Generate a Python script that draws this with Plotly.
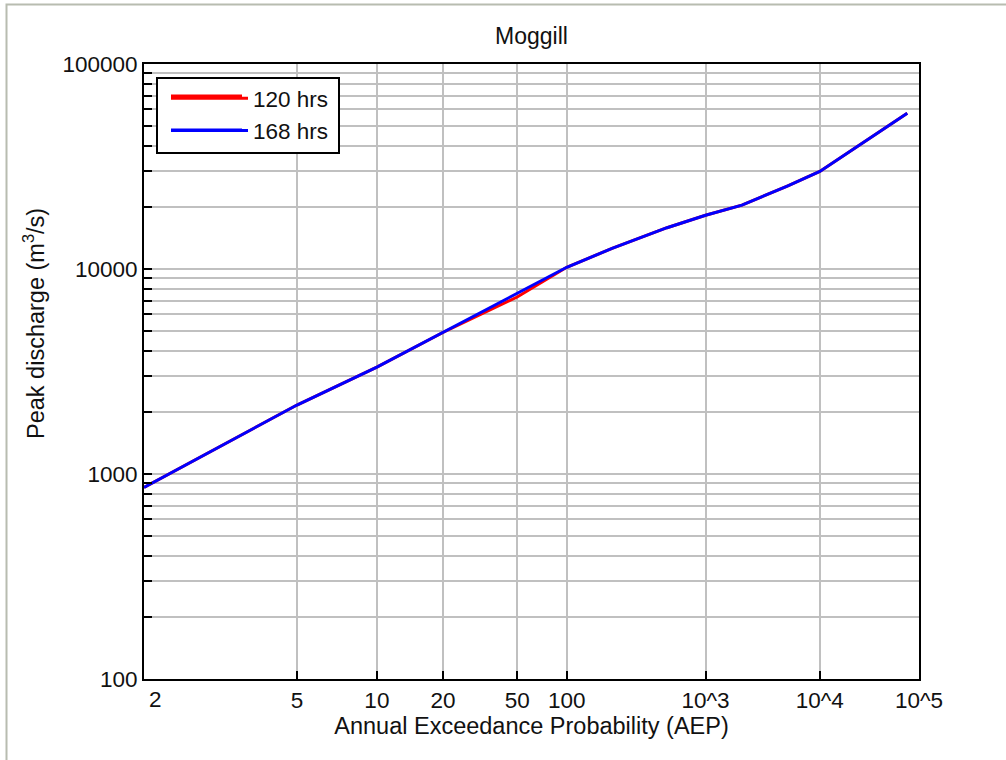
import plotly.graph_objects as go
from statistics import NormalDist

# ---------------- data ----------------
# AEP expressed as "1 in Y" years
aep_120 = [2, 5, 10, 20, 50, 100, 200, 500, 1000, 2000, 5000, 10000, 75000]
q_120 = [860, 2170, 3320, 4900, 7300, 10200, 12600, 15900, 18300, 20500, 25400, 29900, 57500]

aep_168 = [2, 5, 10, 20, 50, 100, 200, 500, 1000, 2000, 5000, 10000, 75000]
q_168 = [860, 2170, 3320, 4900, 7600, 10200, 12600, 15900, 18300, 20500, 25400, 29900, 57500]

x_tick_aep = [5, 10, 20, 50, 100, 1000, 10000, 100000]
x_tick_text = ["5", "10", "20", "50", "100", "10^3", "10^4", "10^5"]
x_first_label = "2"

series_names = ["120 hrs", "168 hrs"]
series_colors = ["#ff0000", "#0000ff"]

# ---------------- helpers ----------------
nd = NormalDist()


def zval(y):
    """normal-probability-scale coordinate of an AEP of 1 in y"""
    return nd.inv_cdf(1.0 - 1.0 / y)


W, H = 1006, 760
L, R, T, B = 144, 87, 64, 81
PW, PH = W - L - R, H - T - B


def px(xp):
    return (xp - L) / PW


def py(yp):
    return (H - B - yp) / PH


FONT = "Liberation Sans, Arial, sans-serif"
TXT = "#111111"
GRID = "#c0c0c0"

fig = go.Figure()
for name, color, xs, ys in [
    (series_names[0], series_colors[0], aep_120, q_120),
    (series_names[1], series_colors[1], aep_168, q_168),
]:
    fig.add_trace(
        go.Scatter(
            x=[zval(v) for v in xs],
            y=ys,
            mode="lines",
            name=name,
            line=dict(color=color, width=3),
        )
    )

fig.update_layout(
    width=W,
    height=H,
    margin=dict(l=L, r=R, t=T, b=B, pad=0),
    paper_bgcolor="white",
    plot_bgcolor="white",
    font=dict(family=FONT, size=22.5, color=TXT),
    title=dict(
        text="Moggill",
        x=0.5,
        xref="paper",
        xanchor="center",
        y=1 - 36 / H,
        yref="container",
        yanchor="middle",
        font=dict(size=23, color=TXT),
    ),
    showlegend=True,
    legend=dict(
        x=px(166),
        y=py(77),
        xanchor="left",
        yanchor="top",
        bgcolor="rgba(0,0,0,0)",
        borderwidth=0,
        itemwidth=77,
        tracegroupgap=6,
        font=dict(size=22.5, color=TXT),
        itemclick=False,
    ),
)

fig.update_xaxes(
    range=[zval(2), zval(100000)],
    tickmode="array",
    tickvals=[zval(v) for v in x_tick_aep],
    ticktext=x_tick_text,
    ticks="inside",
    ticklen=8,
    tickwidth=2,
    tickcolor="black",
    showgrid=True,
    gridcolor=GRID,
    gridwidth=1.5,
    showline=True,
    linecolor="black",
    linewidth=2,
    mirror=True,
    zeroline=False,
    tickfont=dict(size=22.5, color=TXT),
    title=dict(text="Annual Exceedance Probability (AEP)", standoff=6, font=dict(size=23.5, color=TXT)),
)

fig.update_yaxes(
    type="log",
    range=[2, 5],
    tickmode="linear",
    tick0=0,
    dtick=1,
    tickformat="d",
    ticks="inside",
    ticklen=8,
    tickwidth=2,
    tickcolor="black",
    showgrid=True,
    gridcolor=GRID,
    gridwidth=1.5,
    minor=dict(
        dtick="D1",
        ticks="inside",
        ticklen=8,
        tickwidth=2,
        tickcolor="black",
        showgrid=True,
        gridcolor=GRID,
        gridwidth=1.5,
    ),
    showline=True,
    linecolor="black",
    linewidth=2,
    mirror=True,
    zeroline=False,
    tickfont=dict(size=22.5, color=TXT),
)

# legend box and long legend lines
fig.add_shape(
    type="rect", xref="paper", yref="paper",
    x0=px(157), x1=px(339), y0=py(153), y1=py(78),
    fillcolor="white", line=dict(color="black", width=2), layer="above",
)
for i, yy in enumerate([96, 130]):
    fig.add_shape(
        type="line", xref="paper", yref="paper",
        x0=px(171), x1=px(242), y0=py(yy), y1=py(yy),
        line=dict(color=series_colors[i], width=3), layer="above",
    )

# outer window frame
fig.add_shape(
    type="path", xref="paper", yref="paper",
    path=f"M {px(6.5)},{py(H)} L {px(6.5)},{py(4.5)} L {px(W)},{py(4.5)}",
    line=dict(color="#b8bcb0", width=2),
)

# "2" label (drawn slightly right of the left edge, as in the original)
fig.add_annotation(
    text=x_first_label, xref="paper", yref="paper", x=px(155), y=py(699),
    showarrow=False, xanchor="center", yanchor="middle",
    font=dict(size=22.5, color=TXT),
)

# y-axis title
fig.add_annotation(
    text="Peak discharge (m<sup>3</sup>/s)", xref="paper", yref="paper",
    x=px(34), y=py(324), textangle=-90, showarrow=False,
    xanchor="center", yanchor="middle",
    font=dict(size=23.5, color=TXT),
)

fig.write_html("out.html")
